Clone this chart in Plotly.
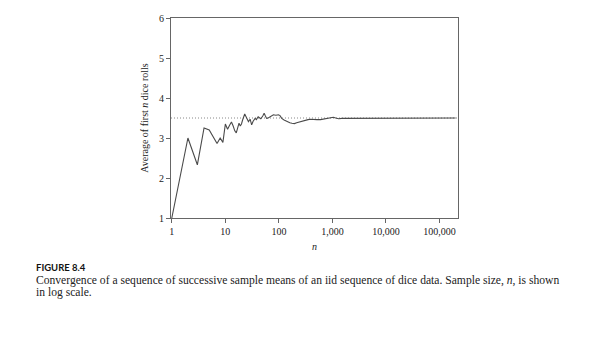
import plotly.graph_objects as go

# Sample size n and running mean of dice rolls
n_values = [1, 2, 3, 4, 5, 6, 7, 8, 9, 10, 11, 12, 13, 14, 15, 16, 17, 18, 19, 20,
            21, 23, 25, 27, 29, 31, 33, 36, 38, 41, 44, 46, 50, 53, 56, 59, 63, 68,
            73, 79, 88, 98, 105, 113, 125, 140, 160, 175, 195, 215, 240, 267, 310,
            350, 380, 440, 514, 600, 680, 760, 850, 950, 1040, 1150, 1300, 1500,
            1700, 2100, 2500, 3200, 4000, 5000, 6000, 8000, 10000, 15000, 25000,
            40000, 60000, 100000, 150000, 200000]
running_mean = [1.0, 3.0, 2.33, 3.25, 3.2, 3.0, 2.86, 3.0, 2.89, 3.35, 3.22, 3.32, 3.4, 3.3, 3.18, 3.13, 3.3, 3.37, 3.3, 3.35,
                3.45, 3.6, 3.5, 3.41, 3.47, 3.33, 3.42, 3.49, 3.46, 3.53, 3.5, 3.48, 3.55, 3.62, 3.55, 3.49, 3.5, 3.52,
                3.55, 3.58, 3.57, 3.58, 3.56, 3.49, 3.45, 3.41, 3.38, 3.37, 3.36, 3.38, 3.4, 3.43, 3.44,
                3.46, 3.47, 3.46, 3.46, 3.46, 3.47, 3.48, 3.49, 3.5, 3.52, 3.5, 3.48, 3.49,
                3.49, 3.49, 3.49, 3.495, 3.495, 3.5, 3.5, 3.5, 3.5, 3.5, 3.5,
                3.5, 3.5, 3.5, 3.5, 3.5]

expected_value = 3.5
x_tickvals = [1, 10, 100, 1000, 10000, 100000]
x_ticktext = ["1", "10", "100", "1,000", "10,000", "100,000"]
y_tickvals = [1, 2, 3, 4, 5, 6]

SERIF = "Liberation Serif, Times New Roman, serif"

fig = go.Figure()
fig.add_trace(go.Scatter(x=n_values, y=running_mean, mode="lines",
                         line=dict(color="#4a4a4a", width=1.1), showlegend=False,
                         hoverinfo="skip"))

fig.add_shape(type="line", xref="paper", yref="y", x0=0, x1=1,
              y0=expected_value, y1=expected_value,
              line=dict(color="#888888", width=1, dash="1px,2px"), layer="below")

axis_common = dict(showline=True, linecolor="#666666", linewidth=1, mirror=True,
                   ticks="outside", ticklen=4, tickcolor="#666666", showgrid=False,
                   zeroline=False, tickfont=dict(family=SERIF, size=10, color="#222222"))

fig.update_xaxes(type="log", range=[-0.015, 5.345], tickvals=x_tickvals,
                 ticktext=x_ticktext, title=dict(text="<i>n</i>", standoff=6,
                 font=dict(family=SERIF, size=10, color="#222222")), **axis_common)
fig.update_yaxes(range=[1, 6], tickvals=y_tickvals,
                 title=dict(text="Average of first <i>n</i> dice rolls", standoff=8,
                 font=dict(family=SERIF, size=10, color="#222222")), **axis_common)

W, H = 593, 338
L, R, T, B = 171, 458, 16, 218
pw, ph = R - L, B - T

def px(x):
    return (x - L) / pw

def py(y):
    return (B - y) / ph

fig.add_annotation(text="<b>FIGURE 8.4</b>", xref="paper", yref="paper",
                   x=px(34), y=py(268), xanchor="left", yanchor="middle",
                   showarrow=False, font=dict(family="Lato, sans-serif", size=9.5, color="#111111",
                                              weight="bold"))
fig.add_annotation(text="Convergence of a sequence of successive sample means of an iid sequence of dice data. Sample size, <i>n</i>, is shown",
                   xref="paper", yref="paper", x=px(34), y=py(281), xanchor="left", yanchor="middle",
                   showarrow=False, font=dict(family=SERIF, size=11.6, color="#222222"))
fig.add_annotation(text="in log scale.",
                   xref="paper", yref="paper", x=px(34), y=py(293), xanchor="left", yanchor="middle",
                   showarrow=False, font=dict(family=SERIF, size=11.6, color="#222222"))

fig.update_layout(width=W, height=H, margin=dict(l=L, r=W - R, t=T, b=H - B),
                  plot_bgcolor="white", paper_bgcolor="white")

fig.write_html("out.html")
